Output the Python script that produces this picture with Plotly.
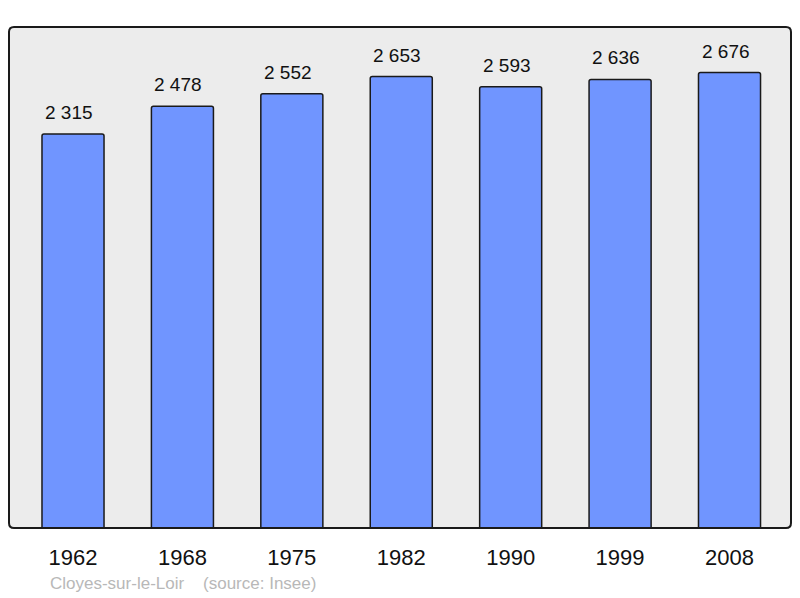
import plotly.graph_objects as go

years = ["1962", "1968", "1975", "1982", "1990", "1999", "2008"]
population = [2315, 2478, 2552, 2653, 2593, 2636, 2676]
value_labels = ["2 315", "2 478", "2 552", "2 653", "2 593", "2 636", "2 676"]
caption = "Cloyes-sur-le-Loir    (source: Insee)"

W, H = 800, 598
ML, MR, MT, MB = 9, 9, 27, 70
pw, ph = W - ML - MR, H - MT - MB
FONT = "Liberation Sans, Arial, sans-serif"

fig = go.Figure()
fig.add_trace(go.Bar(
    x=years, y=population,
    marker=dict(color="#7095ff", line=dict(color="#1a1a1a", width=1.5), cornerradius=2),
    hoverinfo="skip",
))

annotations = []
for i, (v, lab) in enumerate(zip(population, value_labels)):
    annotations.append(dict(x=i, y=v, xref="x", yref="y", text=lab, showarrow=False,
                            yanchor="bottom", yshift=9, xshift=-4,
                            font=dict(family=FONT, size=19, color="#111")))
annotations.append(dict(x=(48 - ML) / pw, y=-(583 - MT - ph) / ph, xref="paper", yref="paper",
                        text=caption, showarrow=False, xanchor="left", yanchor="middle",
                        font=dict(family=FONT, size=17, color="#b8b8b8")))

rx, ry = 5 / pw, 5 / ph
path = (f"M {rx},0 L {1-rx},0 Q 1,0 1,{ry} L 1,{1-ry} Q 1,1 {1-rx},1 "
        f"L {rx},1 Q 0,1 0,{1-ry} L 0,{ry} Q 0,0 {rx},0 Z")

fig.update_layout(
    width=W, height=H,
    margin=dict(l=ML, r=MR, t=MT, b=MB),
    paper_bgcolor="white", plot_bgcolor="#ececec",
    bargap=0.433, showlegend=False,
    xaxis=dict(type="category", range=[-0.585, 6.562], showgrid=False, zeroline=False,
               showline=False, ticks="outside", ticklen=10, tickcolor="rgba(0,0,0,0)",
               tickfont=dict(family=FONT, size=22, color="#111")),
    yaxis=dict(range=[0, 2944], showgrid=False, zeroline=False, showticklabels=False,
               showline=False, ticks=""),
    shapes=[dict(type="path", xref="paper", yref="paper", path=path,
                 line=dict(color="#1a1a1a", width=2), layer="above")],
    annotations=annotations,
)

fig.write_html("out.html", config={"displayModeBar": False},
               post_script="document.body.style.margin='0';document.body.style.padding='0';")
